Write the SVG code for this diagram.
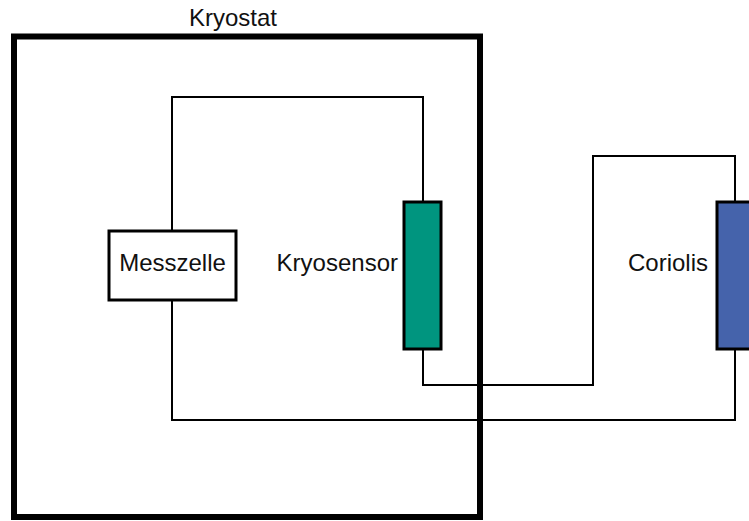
<svg xmlns="http://www.w3.org/2000/svg" width="749" height="521" viewBox="0 0 749 521">
<style>
.wire{fill:none;stroke:#000;stroke-width:2}
.lbl{font-family:"Liberation Sans",Arial,sans-serif;font-size:24px;fill:#111}
.node{stroke:#000;stroke-width:3}
</style>
<rect width="749" height="521" fill="#fff"/>
<g id="kryostat">
<rect x="14" y="36.5" width="466" height="480.5" fill="none" stroke="#000" stroke-width="6"/>
<text class="lbl" x="233" y="26" text-anchor="middle">Kryostat</text>
</g>
<g id="connectors">
<polyline class="wire" points="172,230 172,97 423,97 423,202"/>
<polyline class="wire" points="172,300 172,420 735,420 735,349"/>
<polyline class="wire" points="423,350 423,385 593,385 593,156 735,156 735,202"/>
</g>
<g id="messzelle">
<rect class="node" x="109" y="231" width="127" height="69" fill="#fff" stroke-width="2.5"/>
<text class="lbl" x="172.5" y="271" text-anchor="middle">Messzelle</text>
</g>
<g id="kryosensor">
<rect class="node" x="404" y="202" width="37" height="147" fill="#00957f"/>
<text class="lbl" x="398" y="271" text-anchor="end">Kryosensor</text>
</g>
<g id="coriolis">
<rect class="node" x="717" y="202" width="40" height="147" fill="#4563ab"/>
<text class="lbl" x="708" y="271" text-anchor="end">Coriolis</text>
</g>
</svg>
